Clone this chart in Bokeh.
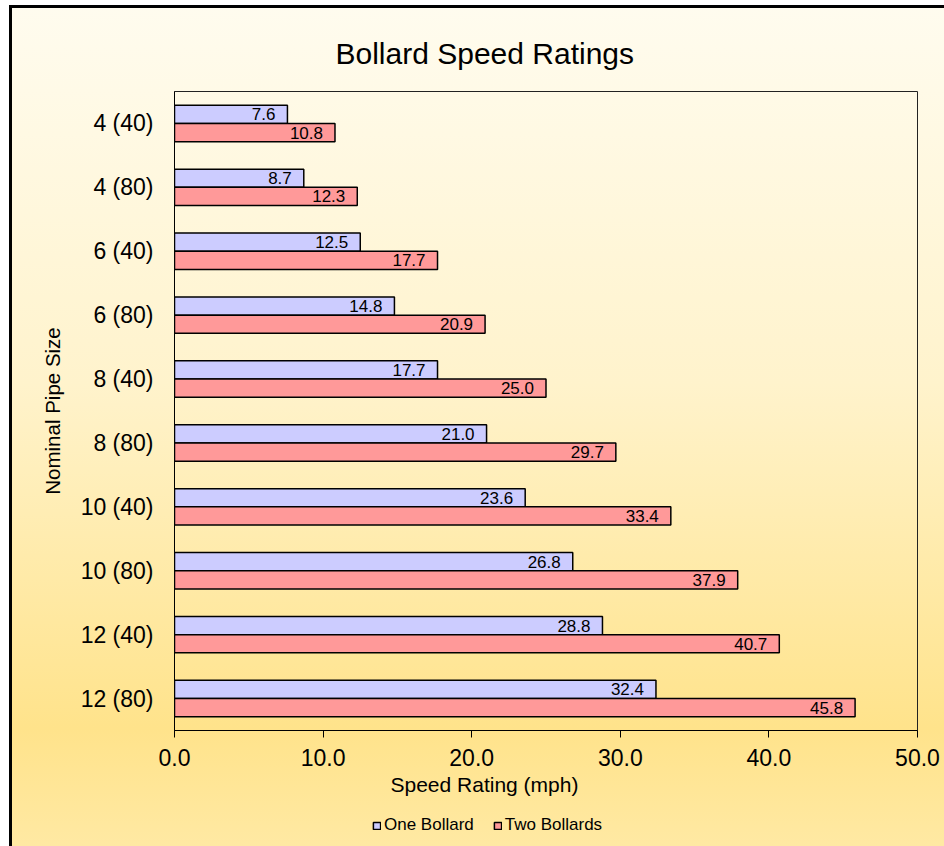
from bokeh.plotting import figure
from bokeh.layouts import column
from bokeh.models import (ColumnDataSource, FactorRange, Range1d, FixedTicker,
                          NumeralTickFormatter, LabelSet, Title, Legend, LegendItem)
from bokeh.core.properties import value
from bokeh.transform import dodge
from bokeh.embed import file_html
from bokeh.resources import INLINE

# ---- data ----
categories = ["4 (40)", "4 (80)", "6 (40)", "6 (80)", "8 (40)",
              "8 (80)", "10 (40)", "10 (80)", "12 (40)", "12 (80)"]
one_bollard = [7.6, 8.7, 12.5, 14.8, 17.7, 21.0, 23.6, 26.8, 28.8, 32.4]
two_bollards = [10.8, 12.3, 17.7, 20.9, 25.0, 29.7, 33.4, 37.9, 40.7, 45.8]
series_names = ["One Bollard", "Two Bollards"]
series_cols = ["one", "two"]
series_colors = ["#CCCCFF", "#FF9999"]
x_ticks = [0, 10, 20, 30, 40, 50]

FONT = "Liberation Sans"
W = 935
H_MAIN = 805
H_LEG = 36

src = ColumnDataSource(dict(
    cat=categories,
    one=one_bollard,
    two=two_bollards,
    one_lbl=[f"{v:.1f}" for v in one_bollard],
    two_lbl=[f"{v:.1f}" for v in two_bollards],
))

p = figure(width=W, height=H_MAIN,
           output_backend="svg", toolbar_location=None,
           y_range=FactorRange(factors=list(reversed(categories))),
           x_range=Range1d(0, 50),
           min_border_left=165, min_border_top=86, min_border_right=27,
           min_border_bottom=80)
p.border_fill_alpha = 0
p.background_fill_alpha = 0
p.outline_line_color = "#222222"
p.outline_line_width = 1
p.xgrid.visible = False
p.ygrid.visible = False

BAR_H = 0.285
OFFS = [BAR_H / 2, -BAR_H / 2]
for col, off, colr in zip(series_cols, OFFS, series_colors):
    p.hbar(y=dodge("cat", off, range=p.y_range), right=col, left=0, height=BAR_H,
           source=src, fill_color=colr, line_color="black", line_width=1.5)
    p.add_layout(LabelSet(x=col, y=dodge("cat", off, range=p.y_range), text=col + "_lbl",
                          source=src, x_offset=-12, y_offset=0, text_align="right",
                          text_baseline="middle", text_font_size="17px",
                          text_font=value(FONT), text_color="black"))

# axes
xa = p.xaxis[0]
xa.ticker = FixedTicker(ticks=x_ticks)
xa.formatter = NumeralTickFormatter(format="0.0")
xa.minor_tick_line_color = None
xa.major_tick_out = 7
xa.major_tick_in = 0
xa.major_label_standoff = 11
xa.major_label_text_font_size = "23px"
xa.major_label_text_font = FONT
xa.major_label_text_color = "black"
xa.axis_line_color = "black"
xa.major_tick_line_color = "black"

ya = p.yaxis[0]
ya.major_tick_line_color = None
ya.minor_tick_line_color = None
ya.major_tick_out = 0
ya.major_tick_in = 0
ya.major_label_standoff = 21
ya.major_label_text_font_size = "23px"
ya.major_label_text_font = FONT
ya.major_label_text_color = "black"
ya.axis_line_color = "black"
ya.axis_label = "Nominal Pipe Size"
ya.axis_label_text_font_size = "20.5px"
ya.axis_label_text_font = FONT
ya.axis_label_text_font_style = "normal"
ya.axis_label_text_color = "black"
ya.axis_label_standoff = 14

# chart title
p.title = Title(text="Bollard Speed Ratings", align="left", offset=161, standoff=44,
                text_font_size="30px", text_font=FONT, text_font_style="normal",
                text_color="black")

# x-axis title (off-centre like the reference), placed below the axis
p.add_layout(Title(text="Speed Rating (mph)", align="left", offset=216, standoff=5,
                   text_font_size="21px", text_font=FONT, text_font_style="normal",
                   text_color="black"), "below")

# ---- legend strip (own small figure sharing the ranges) ----
q = figure(width=W, height=H_LEG, output_backend="svg", toolbar_location=None,
           x_range=p.x_range, y_range=p.y_range,
           x_axis_location=None, y_axis_location=None,
           min_border=0)
q.border_fill_alpha = 0
q.background_fill_alpha = 0
q.outline_line_color = None
q.xgrid.visible = False
q.ygrid.visible = False
leg_r = []
for col, off, colr in zip(series_cols, OFFS, series_colors):
    leg_r.append(q.hbar(y=dodge("cat", off, range=q.y_range), right=col, left=0,
                        height=BAR_H, source=src, fill_color=colr,
                        line_color="black", line_width=1.5, visible=False))
legend = Legend(items=[LegendItem(label=n, renderers=[r]) for n, r in zip(series_names, leg_r)],
                orientation="horizontal", location=(198, 11),
                padding=0, margin=0, spacing=19, label_standoff=3,
                glyph_width=9, glyph_height=9, label_height=20,
                label_text_font_size="17px", label_text_font=FONT,
                label_text_color="black",
                inactive_fill_alpha=0,
                background_fill_alpha=0, border_line_alpha=0)
q.add_layout(legend, "center")

layout = column(p, q, spacing=0, margin=(5, 0, 0, 9))
layout.styles = {
    "background": "linear-gradient(to bottom, #FFFCEF 0%, #FFF3CC 45%, #FFE38B 86%, #FFE9A3 100%)",
    "box-shadow": "inset 3px 3px 0 0 #000000",
}

open("out.html", "w").write(file_html(layout, INLINE))
